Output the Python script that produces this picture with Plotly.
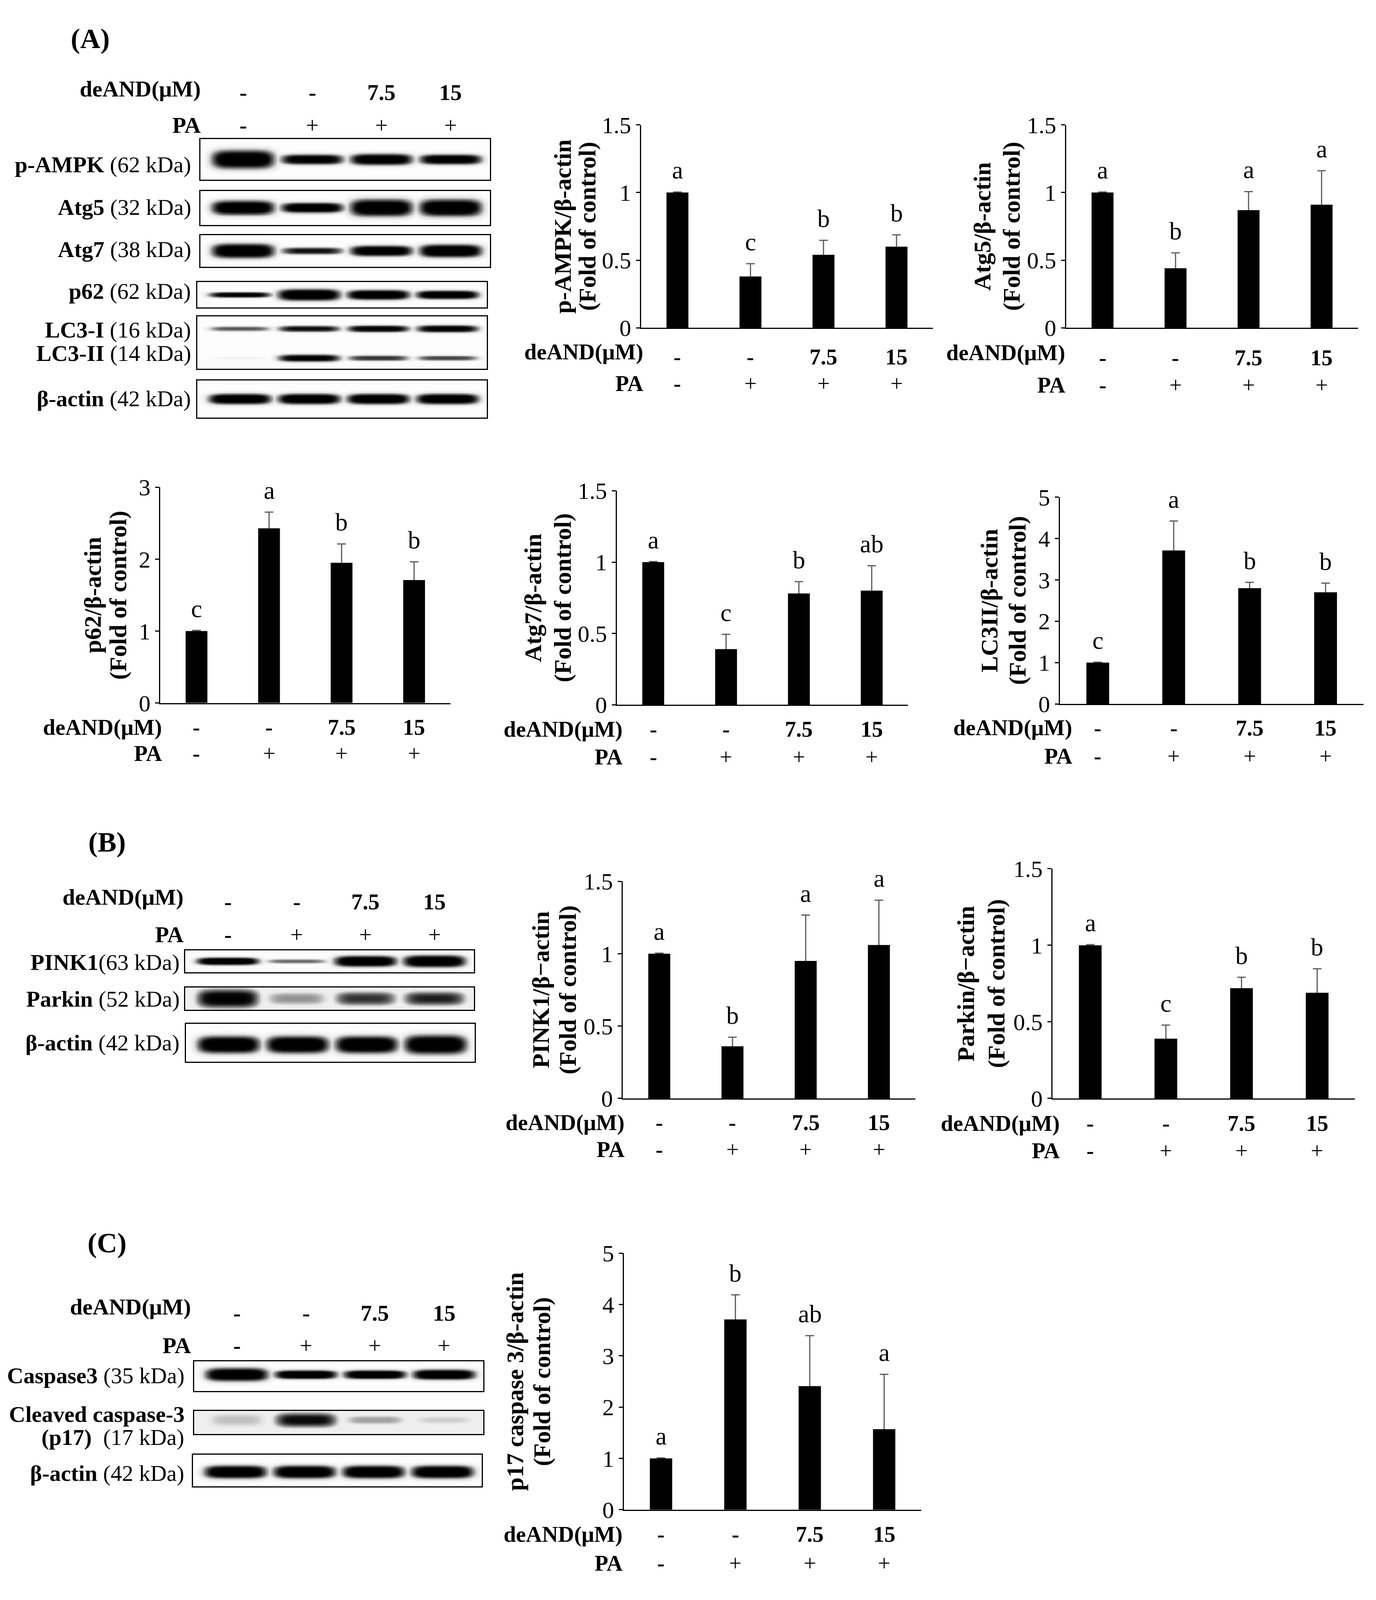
import numpy as np
import plotly.graph_objects as go

W, H = 3522, 4460
SERIF = "Liberation Serif, Times New Roman, serif"

# ---------------- data ----------------
deand_labels = ["-", "-", "7.5", "15"]
pa_labels = ["-", "+", "+", "+"]

pampk_mean = [1.00, 0.38, 0.54, 0.60]
pampk_sd = [0.004, 0.094, 0.107, 0.087]
pampk_sig = ["a", "c", "b", "b"]

atg5_mean = [1.00, 0.44, 0.87, 0.91]
atg5_sd = [0.004, 0.114, 0.137, 0.251]
atg5_sig = ["a", "b", "a", "a"]

p62_mean = [1.00, 2.43, 1.95, 1.71]
p62_sd = [0.01, 0.225, 0.262, 0.254]
p62_sig = ["c", "a", "b", "b"]

atg7_mean = [1.00, 0.39, 0.78, 0.80]
atg7_sd = [0.004, 0.104, 0.083, 0.175]
atg7_sig = ["a", "c", "b", "ab"]

lc3_mean = [1.00, 3.71, 2.80, 2.70]
lc3_sd = [0.01, 0.713, 0.142, 0.221]
lc3_sig = ["c", "a", "b", "b"]

pink1_mean = [1.00, 0.36, 0.95, 1.06]
pink1_sd = [0.004, 0.063, 0.317, 0.31]
pink1_sig = ["a", "b", "a", "a"]

parkin_mean = [1.00, 0.39, 0.72, 0.69]
parkin_sd = [0.004, 0.089, 0.071, 0.157]
parkin_sig = ["a", "c", "b", "b"]

p17_mean = [1.00, 3.71, 2.41, 1.57]
p17_sd = [0.01, 0.481, 0.984, 1.069]
p17_sig = ["a", "b", "ab", "a"]

# western blot band intensities (darkness 0-1) and band thickness (fraction of box)
pampk_band = [1.0, 0.9, 0.95, 0.92]
pampk_thick = [0.45, 0.25, 0.28, 0.25]
atg5_band = [1.0, 0.95, 1.0, 1.0]
atg5_thick = [0.42, 0.30, 0.50, 0.50]
atg7_band = [1.0, 0.7, 0.95, 1.0]
atg7_thick = [0.45, 0.22, 0.33, 0.40]
p62_band = [0.85, 1.0, 1.0, 1.0]
p62_thick = [0.22, 0.45, 0.38, 0.33]
lc3i_band = [0.5, 0.75, 0.85, 0.85]
lc3i_thick = [0.10, 0.12, 0.13, 0.14]
lc3ii_band = [0.08, 0.85, 0.6, 0.55]
lc3ii_thick = [0.06, 0.14, 0.11, 0.10]
actinA_band = [1.0, 1.0, 1.0, 1.0]
actinA_thick = [0.28, 0.28, 0.28, 0.28]
pink1_band = [1.0, 0.45, 1.0, 1.0]
pink1_thick = [0.35, 0.22, 0.50, 0.55]
parkin_band = [0.85, 0.35, 0.6, 0.65]
parkin_thick = [0.85, 0.65, 0.65, 0.65]
actinB_band = [1.0, 1.0, 1.0, 1.0]
actinB_thick = [0.45, 0.45, 0.45, 0.50]
casp3_band = [1.0, 1.0, 1.0, 1.0]
casp3_thick = [0.45, 0.30, 0.30, 0.35]
cleaved_band = [0.25, 0.75, 0.32, 0.22]
cleaved_thick = [0.75, 0.65, 0.45, 0.45]
actinC_band = [1.0, 1.0, 1.0, 1.0]
actinC_thick = [0.40, 0.40, 0.40, 0.40]

# ---------------- layout helpers ----------------
def px_x(x):
    return x / W

def px_y(y):
    return 1 - y / H

fig = go.Figure()
layout = dict(
    margin=dict(l=0, r=0, t=0, b=0), autosize=True,
    paper_bgcolor="white", plot_bgcolor="white",
    showlegend=False, barmode="overlay",
    font=dict(family=SERIF, color="black", size=58),
)
annotations = []

def ann(text, x, y, xref="paper", yref="paper", size=58, xanchor="center",
        yanchor="middle", angle=0, yshift=0):
    annotations.append(dict(
        text=text, x=x, y=y, xref=xref, yref=yref, showarrow=False,
        xanchor=xanchor, yanchor=yanchor, textangle=angle, yshift=yshift,
        font=dict(family=SERIF, size=size, color="black"),
    ))

# ---------------- bar charts ----------------
charts = [
    dict(t="p-AMPK/β-actin", m=pampk_mean, s=pampk_sd, g=pampk_sig, ymax=1.5, dt=0.5,
         box=(1640, 2391, 311, 889), tx=(1439, 1502), rows=(958, 971, 1047), lr=1648),
    dict(t="Atg5/β-actin", m=atg5_mean, s=atg5_sd, g=atg5_sig, ymax=1.5, dt=0.5,
         box=(2733, 3484, 311, 889), tx=(2518, 2593), rows=(960, 974, 1052), lr=2733),
    dict(t="p62/β-actin", m=p62_mean, s=p62_sd, g=p62_sig, ymax=3, dt=1,
         box=(404, 1150, 1343, 1957), tx=(230, 296), rows=(2026, 2026, 2100), lr=411),
    dict(t="Atg7/β-actin", m=atg7_mean, s=atg7_sd, g=atg7_sig, ymax=1.5, dt=0.5,
         box=(1578, 2327, 1353, 1962), tx=(1362, 1439), rows=(2032, 2032, 2110), lr=1595),
    dict(t="LC3II/β-actin", m=lc3_mean, s=lc3_sd, g=lc3_sig, ymax=5, dt=1,
         box=(2717, 3498, 1371, 1960), tx=(2536, 2608), rows=(2028, 2028, 2108), lr=2752),
    dict(t="PINK1/β\u2212actin", m=pink1_mean, s=pink1_sd, g=pink1_sig, ymax=1.5, dt=0.5,
         box=(1593, 2346, 2465, 3083), tx=(1382, 1452), rows=(3152, 3152, 3228), lr=1600),
    dict(t="Parkin/β\u2212actin", m=parkin_mean, s=parkin_sd, g=parkin_sig, ymax=1.5, dt=0.5,
         box=(2698, 3476, 2429, 3083), tx=(2475, 2555), rows=(3154, 3154, 3232), lr=2719),
    dict(t="p17 caspase 3/β-actin", m=p17_mean, s=p17_sd, g=p17_sig, ymax=5, dt=1,
         box=(1596, 2361, 3524, 4254), tx=(1316, 1386), rows=(4324, 4324, 4406), lr=1595),
]

cats = list(range(len(deand_labels)))
ax_i = 0
for c in charts:
    ax_i += 1
    xa = "x" if ax_i == 1 else f"x{ax_i}"
    ya = "y" if ax_i == 1 else f"y{ax_i}"
    x0, x1, yt, yb = c["box"]
    layout[f"xaxis{'' if ax_i == 1 else ax_i}"] = dict(
        domain=[px_x(x0), px_x(x1)], anchor=ya, range=[-0.5, 3.5],
        showline=True, linecolor="black", linewidth=3, ticks="",
        showticklabels=False, showgrid=False, zeroline=False, fixedrange=True)
    layout[f"yaxis{'' if ax_i == 1 else ax_i}"] = dict(
        domain=[px_y(yb), px_y(yt)], anchor=xa, range=[0, c["ymax"]], dtick=c["dt"],
        tick0=0, showline=True, linecolor="black", linewidth=3, ticks="outside",
        ticklen=10, tickwidth=3, tickcolor="black", showgrid=False, zeroline=False,
        tickfont=dict(family=SERIF, size=60, color="black"), fixedrange=True)
    fig.add_trace(go.Bar(x=cats, y=c["m"], width=0.3, xaxis=xa, yaxis=ya,
                         marker=dict(color="rgba(0,0,0,0)"),
                         error_y=dict(type="data", array=c["s"], color="#5a5a5a",
                                      thickness=3, width=11),
                         hoverinfo="skip"))
    fig.add_trace(go.Bar(x=cats, y=c["m"], width=0.3, xaxis=xa, yaxis=ya,
                         marker=dict(color="black", line=dict(width=0)),
                         hoverinfo="skip"))
    for i, (m, s, g) in enumerate(zip(c["m"], c["s"], c["g"])):
        ann(g, i, m + s, xref=xa, yref=ya, size=64, yanchor="bottom", yshift=18)
    ymid = (yt + yb) / 2
    ann(f"<b>{c['t']}</b>", px_x(c["tx"][0]), px_y(ymid), size=62, angle=-90)
    ann("<b>(Fold of control)</b>", px_x(c["tx"][1]), px_y(ymid), size=62, angle=-90)
    rl, rv, rp = c["rows"]
    ann("<b>deAND(μM)</b>", px_x(c["lr"]), px_y(rl), size=57, xanchor="right")
    ann("<b>PA</b>", px_x(c["lr"]), px_y(rp), size=57, xanchor="right")
    for i, (d, p) in enumerate(zip(deand_labels, pa_labels)):
        ann(f"<b>{d}</b>", i, px_y(rv), xref=xa, size=57)
        ann(p if p == "+" else f"<b>{p}</b>", i, px_y(rp), xref=xa, size=57)

# ---------------- western blots ----------------
LANE_RANGE = [-0.62, 3.57]
bx = np.linspace(LANE_RANGE[0], LANE_RANGE[1], 320)
by = np.linspace(0, 1, 80)
BX, BY = np.meshgrid(bx, by)

def blot_image(rows, bg, halfw=0.45):
    z = np.full_like(BX, bg)
    for center, dark, thick in rows:
        for lane, (d, t) in enumerate(zip(dark, thick)):
            prof = d * np.exp(-(np.abs(BX - lane) / halfw) ** 5) * \
                np.exp(-(np.abs(BY - center) / (t / 2)) ** 2.5)
            z = np.maximum(z, prof)
    return z

blots = [
    # section A
    dict(sec="A", rows=[(0.5, pampk_band, pampk_thick)], bg=0.015, box=(507, 1252, 352, 467),
         lab=[("<b>p-AMPK</b> (62 kDa)", 424)]),
    dict(sec="A", rows=[(0.5, atg5_band, atg5_thick)], bg=0.015, box=(507, 1252, 499, 596),
         lab=[("<b>Atg5</b> (32 kDa)", 546)]),
    dict(sec="A", rows=[(0.5, atg7_band, atg7_thick)], bg=0.015, box=(507, 1252, 625, 715),
         lab=[("<b>Atg7</b> (38 kDa)", 666)]),
    dict(sec="A", rows=[(0.5, p62_band, p62_thick)], bg=0.015, box=(499, 1244, 759, 831),
         lab=[("<b>p62</b> (62 kDa)", 785)]),
    dict(sec="A", rows=[(0.76, lc3i_band, lc3i_thick), (0.2, lc3ii_band, lc3ii_thick)],
         bg=0.02, box=(499, 1244, 856, 1005),
         lab=[("<b>LC3-I</b> (16 kDa)", 895), ("<b>LC3-II</b> (14 kDa)", 962)]),
    dict(sec="A", rows=[(0.5, actinA_band, actinA_thick)], bg=0.015, box=(499, 1244, 1039, 1144),
         lab=[("<b>β-actin</b> (42 kDa)", 1091)]),
    # section B
    dict(sec="B", rows=[(0.5, pink1_band, pink1_thick)], bg=0.02, box=(468, 1210, 2662, 2724),
         lab=[("<b>PINK1</b>(63 kDa)", 2695)]),
    dict(sec="B", rows=[(0.5, parkin_band, parkin_thick)], bg=0.1, box=(468, 1210, 2767, 2831),
         lab=[("<b>Parkin</b> (52 kDa)", 2800)]),
    dict(sec="B", rows=[(0.45, actinB_band, actinB_thick)], bg=0.015, box=(470, 1213, 2871, 2979),
         lab=[("<b>β-actin</b> (42 kDa)", 2925)]),
    # section C
    dict(sec="C", rows=[(0.55, casp3_band, casp3_thick)], bg=0.015, box=(491, 1235, 3832, 3916),
         lab=[("<b>Caspase3</b> (35 kDa)", 3872)]),
    dict(sec="C", rows=[(0.6, cleaved_band, cleaved_thick)], bg=0.1, box=(491, 1235, 3973, 4038),
         lab=[("<b>Cleaved caspase-3</b>", 3982), ("<b>(p17)</b>  (17 kDa)", 4048)]),
    dict(sec="C", rows=[(0.45, actinC_band, actinC_thick)], bg=0.015, box=(488, 1231, 4097, 4188),
         lab=[("<b>β-actin</b> (42 kDa)", 4150)]),
]
label_right = {"A": 485, "B": 456, "C": 468}

gray_scale = [[0, "#ffffff"], [0.2, "#e3e3e3"], [0.5, "#707070"], [0.8, "#111111"], [1, "#000000"]]
first_axis = {}
for b in blots:
    ax_i += 1
    xa, ya = f"x{ax_i}", f"y{ax_i}"
    first_axis.setdefault(b["sec"], xa)
    x0, x1, yt, yb = b["box"]
    layout[f"xaxis{ax_i}"] = dict(
        domain=[px_x(x0), px_x(x1)], anchor=ya, range=LANE_RANGE, showline=True,
        mirror=True, linecolor="black", linewidth=3, ticks="", showticklabels=False,
        showgrid=False, zeroline=False, fixedrange=True)
    layout[f"yaxis{ax_i}"] = dict(
        domain=[px_y(yb), px_y(yt)], anchor=xa, range=[0, 1], showline=True,
        mirror=True, linecolor="black", linewidth=3, ticks="", showticklabels=False,
        showgrid=False, zeroline=False, fixedrange=True)
    fig.add_trace(go.Heatmap(x=bx, y=by, z=blot_image(b["rows"], b["bg"]), xaxis=xa, yaxis=ya,
                             colorscale=gray_scale, zmin=0, zmax=0.85, showscale=False,
                             hoverinfo="skip"))
    for text, ypx in b["lab"]:
        ann(text, px_x(label_right[b["sec"]]), px_y(ypx), size=58, xanchor="right")

# blot headers
headers = {
    "A": dict(letter=(224, 66), lab_right=510, rows=(209, 219, 312)),
    "B": dict(letter=(267, 2354), lab_right=466, rows=(2510, 2523, 2617)),
    "C": dict(letter=(267, 3495), lab_right=485, rows=(3676, 3694, 3786)),
}
for sec, h in headers.items():
    ann(f"<b>({sec})</b>", px_x(h["letter"][0]), px_y(h["letter"][1]), size=72)
    rl, rv, rp = h["rows"]
    ann("<b>deAND(μM)</b>", px_x(h["lab_right"]), px_y(rl), size=58, xanchor="right")
    ann("<b>PA</b>", px_x(h["lab_right"]), px_y(rp), size=58, xanchor="right")
    for i, (d, p) in enumerate(zip(deand_labels, pa_labels)):
        ann(f"<b>{d}</b>", i, px_y(rv), xref=first_axis[sec], size=58)
        ann(p if p == "+" else f"<b>{p}</b>", i, px_y(rp), xref=first_axis[sec], size=58)

layout["annotations"] = annotations
fig.update_layout(**layout)
fig.write_html("out.html", default_width="100%", default_height="calc(100vh - 20px)",
               config={"responsive": True})
